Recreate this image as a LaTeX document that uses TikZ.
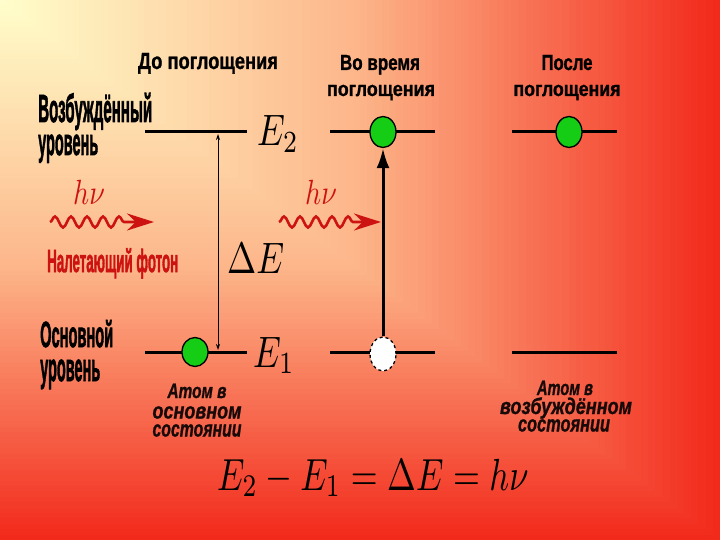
\documentclass[tikz,border=0pt]{standalone}
\usepackage{fontspec}
\newfontfamily\hfont{Liberation Sans}[BoldFeatures={FakeBold=1.2},BoldItalicFeatures={FakeBold=1.2}]
\newfontfamily\heavyfont{Liberation Sans}[BoldFeatures={FakeBold=2.2}]
\usepackage{graphicx}
\usetikzlibrary{decorations.pathmorphing,arrows.meta,shapes.geometric}
\definecolor{bgA}{HTML}{FFFFCC}
\definecolor{bgB}{HTML}{FDB68A}
\definecolor{bgC}{HTML}{F22A1C}
\definecolor{photon}{RGB}{205,18,18}
\definecolor{atomgreen}{RGB}{20,205,20}
\newcommand{\fitt}[3]{\resizebox{#1pt}{#2pt}{\smash{#3}\vphantom{Н}}}
\newcommand{\fitx}[3]{\resizebox{#1pt}{#2pt}{\smash{#3}\vphantom{x}}}
% #1 = horizontal scale of 10pt math, #2 = vertical scale
\newcommand{\mth}[3]{\scalebox{#1}[#2]{$#3$}}
\tikzset{
  hdr/.style={font=\hfont\bfseries, inner sep=0pt, anchor=base},
  lbl/.style={font=\heavyfont\bfseries, inner sep=0pt, anchor=base west},
  alb/.style={font=\hfont\bfseries\itshape, inner sep=0pt, anchor=base, text={rgb,255:red,25;green,10;blue,10}},
  mlab/.style={inner sep=0pt, anchor=base west},
  level/.style={line width=3pt, black},
  atom/.style={ellipse, draw=black, line width=1.3pt, fill=atomgreen, minimum width=26pt, minimum height=31pt, inner sep=0pt},
  hole/.style={ellipse, draw=black, dashed, line width=1.3pt, fill=white, minimum width=26pt, minimum height=34pt, inner sep=0pt},
  wave/.style={photon, line width=2.6pt, decorate, decoration={snake, segment length=16pt, amplitude=5.5pt, post length=26pt}, -{Stealth[length=27pt,width=17pt]}},
  thinarrow/.style={line width=0.8pt, black, {Stealth[length=6pt,width=4pt]}-{Stealth[length=6pt,width=4pt]}},
  thickarrow/.style={line width=3pt, black, -{Latex[length=20pt,width=13pt]}}
}
\begin{document}
\begin{tikzpicture}[x=1pt,y=-1pt]
\useasboundingbox (0,0) rectangle (720,540);
% background: rectangular gradient from the top-left corner
\fill[bgC] (0,0) rectangle (720,540);
\foreach \i in {100,99,...,51}{
  \pgfmathtruncatemacro\p{2*\i-100}
  \fill[bgC!\p!bgB] (0,0) rectangle (7.2*\i,5.4*\i);
}
\foreach \i in {50,49,...,1}{
  \pgfmathtruncatemacro\p{2*\i}
  \fill[bgB!\p!bgA] (0,0) rectangle (7.2*\i,5.4*\i);
}

% headers
\node[hdr] (h1) at (208,69) {\fitt{140}{16}{До поглощения}};
\node[hdr] (h2a) at (380,70) {\fitt{80}{15}{Во время}};
\node[hdr] (h2b) at (381,96) {\fitx{108}{11}{поглощения}};
\node[hdr] (h3a) at (567,70) {\fitt{51}{15}{После}};
\node[hdr] (h3b) at (567,96) {\fitx{107}{11}{поглощения}};

% level names
\node[lbl] (exc1) at (38,122) {\fitt{114}{27}{Возбуждённый}};
\node[lbl] (exc2) at (38,155) {\fitx{60}{20}{уровень}};
\node[lbl] (gnd1) at (40,347) {\fitt{73}{25}{Основной}};
\node[lbl] (gnd2) at (40,381) {\fitx{60}{21}{уровень}};
\node[lbl, text=photon] (inc) at (47,272) {\fitt{131}{22}{Налетающий фотон}};

% atom state labels
\node[alb] (s1a) at (197,398) {\fitx{59}{11}{Атом в}};
\node[alb] (s1b) at (197,418.5) {\fitx{89}{12}{основном}};
\node[alb] (s1c) at (197,436.5) {\fitx{89}{12}{состоянии}};
\node[alb] (s3a) at (565,395) {\fitx{56}{11}{Атом в}};
\node[alb] (s3b) at (566,414) {\fitx{132}{12}{возбуждённом}};
\node[alb] (s3c) at (564,431.5) {\fitx{92}{12}{состоянии}};

% math labels
\node[mlab] (E2) at (257,146) {\mth{3.5}{4.4}{E_2}};
\node[mlab] (dE) at (227,273) {\mth{3.5}{4.4}{\Delta E}};
\node[mlab] (E1) at (253,367) {\mth{3.5}{4.4}{E_1}};
\node[mlab] (form) at (217,490) {\mth{3.45}{4.5}{E_2-E_1=\Delta E=h\nu}};
\node[mlab, text=photon] (hv1) at (73,205) {\mth{2.8}{3.5}{h\nu}};
\node[mlab, text=photon] (hv2) at (305,205) {\mth{2.8}{3.5}{h\nu}};

% energy levels
\draw[level] (145,132) -- (247,132);
\draw[level] (145,352) -- (247,352);
\draw[level] (330,132) -- (435,132);
\draw[level] (330,352) -- (435,352);
\draw[level] (512,132) -- (617,132);
\draw[level] (512,352) -- (617,352);

% Delta E arrow
\coordinate (dtop) at (218,134);
\coordinate (dbot) at (218,350);
\draw[thinarrow] (dtop) -- (dbot);

% atoms
\node[atom, minimum height=29pt] (g1) at (195,352) {};
\node[atom] (g2) at (383,132) {};
\node[atom] (g3) at (569,132) {};
\node[hole] (w1) at (383,354) {};

% transition arrow
\draw[thickarrow] (w1.north) -- (g2.south);

% photons
\coordinate (pL0) at (50,222);
\coordinate (pL1) at (154,222);
\coordinate (pM0) at (279,222);
\coordinate (pM1) at (381,222);
\draw[wave] (pL0) -- (pL1);
\draw[wave] (pM0) -- (pM1);
\end{tikzpicture}
\end{document}
